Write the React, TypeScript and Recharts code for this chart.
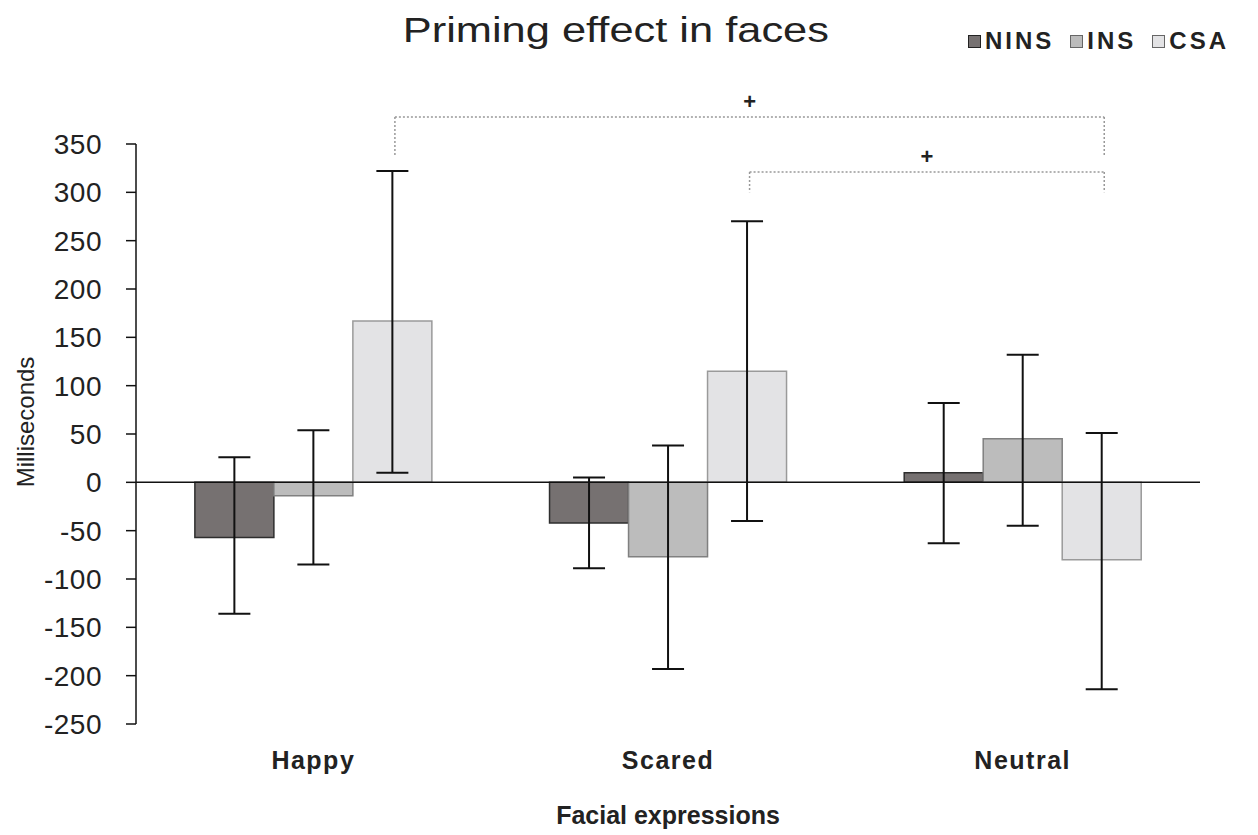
import React from 'react';
import { BarChart, Bar, XAxis, YAxis, ErrorBar, ReferenceLine } from 'recharts';

const categories = ['Happy', 'Scared', 'Neutral'];
const ninsValues = [-57, -42, 10];
const insValues = [-14, -77, 45];
const csaValues = [167, 115, -80];
// error bar extents as [below, above]
const ninsErrors = [[79, 83], [47, 47], [73, 72]];
const insErrors = [[71, 68], [116, 115], [90, 87]];
const csaErrors = [[157, 155], [155, 155], [134, 131]];
const yTicks = [-250, -200, -150, -100, -50, 0, 50, 100, 150, 200, 250, 300, 350];

const seriesNames = ['NINS', 'INS', 'CSA'];
const seriesFill = ['#767171', '#bcbcbc', '#e3e3e5'];
const seriesStroke = ['#2e2e2e', '#808080', '#9a9a9a'];

// significance brackets between CSA bars (category index, level in ms)
const brackets = [
  { from: 0, to: 2, level: 378, drop: 338, mark: '+' },
  { from: 1, to: 2, level: 321, drop: 300, mark: '+' },
];
const csaOffset = 0.73;

const data = categories.map((c, i) => ({
  category: c,
  pos: i + 0.5,
  NINS: ninsValues[i],
  INS: insValues[i],
  CSA: csaValues[i],
  ninsErr: ninsErrors[i],
  insErr: insErrors[i],
  csaErr: csaErrors[i],
}));

const font = '"Liberation Sans", Arial, sans-serif';
const textColor = '#222';

const LegendBox = () => (
  <div style={{ position: 'absolute', left: 968, top: 27, display: 'flex', alignItems: 'center', fontFamily: font, fontWeight: 'bold', fontSize: 24, color: textColor }}>
    {seriesNames.map((n, i) => (
      <div key={n} style={{ display: 'flex', alignItems: 'center', marginRight: 16 }}>
        <span style={{ display: 'inline-block', width: 11, height: 11, background: seriesFill[i], border: `1.5px solid ${i === 0 ? '#222' : '#666'}`, marginRight: 4 }} />
        <span style={{ letterSpacing: 3 }}>{n}</span>
      </div>
    ))}
  </div>
);

export default function App() {
  return (
    <div style={{ position: 'absolute', left: 0, top: 0, width: 1258, height: 835, background: '#fff' }}>
      <div style={{ position: 'absolute', left: 0, width: 1232, top: 10, textAlign: 'center', fontFamily: font, fontSize: 35, color: textColor }}>
        <span style={{ display: 'inline-block', transform: 'scaleX(1.24)' }}>Priming effect in faces</span>
      </div>
      <LegendBox />
      <BarChart
        width={1258}
        height={835}
        data={data}
        margin={{ top: 144, right: 58, bottom: 0, left: 0 }}
        barCategoryGap="16.6%"
        barGap={0}
      >
        <XAxis
          dataKey="category"
          height={111}
          axisLine={false}
          tickLine={false}
          tickMargin={21}
          tick={{ fontSize: 25, fontWeight: 'bold', fill: textColor, fontFamily: font, letterSpacing: 1.5 }}
          label={({ viewBox }: any) => {
            const cx = viewBox.x + viewBox.width / 2;
            return (
              <text x={cx} y={824} textAnchor="middle" fontSize={25} fontWeight="bold" fill={textColor} fontFamily={font}>
                Facial expressions
              </text>
            );
          }}
        />
        <XAxis xAxisId="pos" dataKey="pos" type="number" domain={[0, 3]} allowDataOverflow hide />
        <YAxis
          width={136}
          domain={[-250, 350]}
          ticks={yTicks}
          interval={0}
          allowDataOverflow
          axisLine={{ stroke: '#111', strokeWidth: 1.5 }}
          tickLine={{ stroke: '#111', strokeWidth: 1.5 }}
          tickSize={10}
          tickMargin={24}
          tick={{ fontSize: 28, fill: textColor, fontFamily: font, letterSpacing: 0.5 }}
          label={({ viewBox }: any) => {
            const cx = 25;
            const cy = viewBox.y + viewBox.height / 2 - 12;
            return (
              <text x={cx} y={cy} transform={`rotate(-90 ${cx} ${cy})`} textAnchor="middle" dominantBaseline="central" fontSize={24} fill={textColor} fontFamily={font}>
                Milliseconds
              </text>
            );
          }}
        />
        <Bar dataKey="NINS" fill={seriesFill[0]} stroke={seriesStroke[0]} strokeWidth={1.5} isAnimationActive={false}>
          <ErrorBar dataKey="ninsErr" width={16} stroke="#111" strokeWidth={2} direction="y" />
        </Bar>
        <Bar dataKey="INS" fill={seriesFill[1]} stroke={seriesStroke[1]} strokeWidth={1.5} isAnimationActive={false}>
          <ErrorBar dataKey="insErr" width={16} stroke="#111" strokeWidth={2} direction="y" />
        </Bar>
        <Bar dataKey="CSA" fill={seriesFill[2]} stroke={seriesStroke[2]} strokeWidth={1.5} isAnimationActive={false}>
          <ErrorBar dataKey="csaErr" width={16} stroke="#111" strokeWidth={2} direction="y" />
        </Bar>
        <ReferenceLine y={0} stroke="#111" strokeWidth={1.5} />
        {brackets.map((b, i) => (
          <React.Fragment key={i}>
            <ReferenceLine
              xAxisId="pos"
              ifOverflow="visible"
              segment={[{ x: b.from + csaOffset, y: b.level }, { x: b.to + csaOffset, y: b.level }]}
              stroke="#999"
              strokeWidth={1.5}
              strokeDasharray="2 2"
              label={{ value: b.mark, position: 'top', offset: 8, fontSize: 22, fontWeight: 'bold', fill: textColor, fontFamily: font }}
            />
            <ReferenceLine
              xAxisId="pos"
              ifOverflow="visible"
              segment={[{ x: b.from + csaOffset, y: b.level }, { x: b.from + csaOffset, y: b.drop }]}
              stroke="#999"
              strokeWidth={1.5}
              strokeDasharray="2 2"
            />
            <ReferenceLine
              xAxisId="pos"
              ifOverflow="visible"
              segment={[{ x: b.to + csaOffset, y: b.level }, { x: b.to + csaOffset, y: b.drop }]}
              stroke="#999"
              strokeWidth={1.5}
              strokeDasharray="2 2"
            />
          </React.Fragment>
        ))}
      </BarChart>
    </div>
  );
}
